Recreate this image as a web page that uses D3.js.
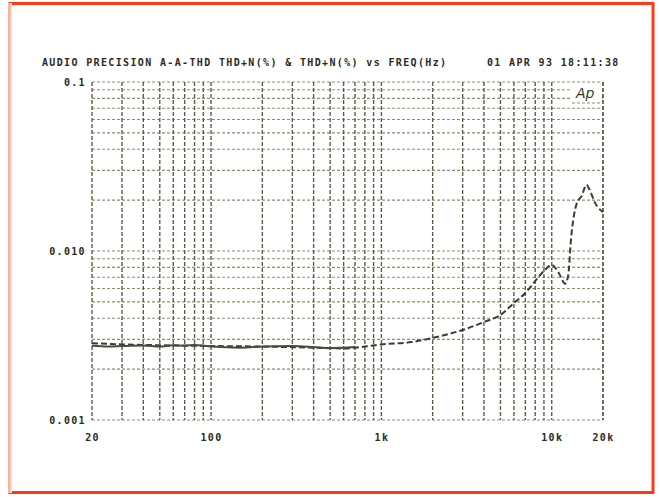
<!DOCTYPE html>
<html><head><meta charset="utf-8">
<script src="https://cdn.jsdelivr.net/npm/d3@7"></script>
<style>
html,body{margin:0;padding:0;background:#fff;}
svg{display:block;}
.t{font-family:"DejaVu Sans Mono","Liberation Mono",monospace;font-weight:bold;font-size:10px;letter-spacing:1.35px;fill:#2b2b22;}
</style></head>
<body>
<svg id="c" width="660" height="497"></svg>
<script>
// ---- data ----
const titleLeft = "AUDIO PRECISION A-A-THD THD+N(%) & THD+N(%) vs FREQ(Hz)";
const titleRight = "01 APR 93 18:11:38";
const xTickValues = [20, 100, 1000, 10000, 20000];
const xTickLabels = ["20", "100", "1k", "10k", "20k"];
const yTickValues = [0.1, 0.01, 0.001];
const yTickLabels = ["0.1", "0.010", "0.001"];
// solid trace (THD+N, low band)
const solidFreq = [20, 25, 30, 40, 50, 60, 70, 80, 100, 150, 200, 300, 400, 500, 600, 700];
const solidVal  = [0.00275, 0.00272, 0.00274, 0.00276, 0.00272, 0.00277, 0.00275, 0.00278, 0.00272, 0.00268, 0.00272, 0.00274, 0.00270, 0.00266, 0.00268, 0.00270];
// dashed trace (THD+N, full band)
const dashFreq = [20, 30, 50, 100, 200, 400, 600, 800, 1000, 1500, 2000, 3000, 4000, 5000, 6000, 7000, 8000, 9000, 10000, 11000, 12000, 12500, 13000, 14000, 15000, 16000, 17000, 18000, 20000];
const dashVal  = [0.00285, 0.00280, 0.00277, 0.00274, 0.00272, 0.00268, 0.00265, 0.00272, 0.00280, 0.00289, 0.00306, 0.00341, 0.00380, 0.00418, 0.00492, 0.00564, 0.00664, 0.00762, 0.00826, 0.00741, 0.00640, 0.00721, 0.0120, 0.0190, 0.0212, 0.0246, 0.0220, 0.0192, 0.0170];

const svg = d3.select("#c");
// scan frame
svg.append("rect").attr("x",10).attr("y",3.5).attr("width",643).attr("height",489)
  .attr("fill","none").attr("stroke","#ff3a12").attr("stroke-width",3);
svg.append("line").attr("x1",10).attr("x2",10).attr("y1",3).attr("y2",493)
  .attr("stroke","#f4c0b0").attr("stroke-width",3);
svg.append("line").attr("x1",11.5).attr("x2",11.5).attr("y1",3).attr("y2",493)
  .attr("stroke","#fbe4dc").attr("stroke-width",1);

const x = d3.scaleLog().domain([20, 20000]).range([92, 603]);
const y = d3.scaleLog().domain([0.001, 0.1]).range([420, 82]);

// grid
const xGrid = [];
[10,100,1000,10000].forEach(d => { for (let m=1;m<=9;m++){ const v=d*m; if(v>=20 && v<=20000) xGrid.push(v);} });
xGrid.push(20000);
const yGrid = [];
[0.001,0.01].forEach(d => { for (let m=1;m<=9;m++) yGrid.push(d*m); });
yGrid.push(0.1);

const g = svg.append("g");
g.selectAll("line.h").data(yGrid).join("line")
  .attr("x1",x(20)).attr("x2",x(20000))
  .attr("y1",d=>y(d)).attr("y2",d=>y(d))
  .attr("stroke","#8e8e6c").attr("stroke-width",1.1).attr("stroke-dasharray","3,2");
g.selectAll("line.v").data(xGrid).join("line")
  .attr("x1",d=>x(d)).attr("x2",d=>x(d))
  .attr("y1",y(0.1)).attr("y2",y(0.001))
  .attr("stroke","#5e5e48").attr("stroke-width",1.4).attr("stroke-dasharray","4,2");

// Ap logo box
svg.append("rect").attr("x",572).attr("y",83).attr("width",30).attr("height",20).attr("fill","#fff");
svg.append("line").attr("x1",572).attr("x2",603).attr("y1",103).attr("y2",103)
  .attr("stroke","#8e8e6c").attr("stroke-width",1.1).attr("stroke-dasharray","3,2");
svg.append("text").attr("x",576).attr("y",98).text("Ap")
  .attr("font-family","DejaVu Sans, sans-serif").attr("font-style","italic")
  .attr("font-size",14).attr("fill","#3a3a30");

// axes labels
const xa = svg.append("g").attr("transform","translate(0,437)")
  .call(d3.axisBottom(x).tickValues(xTickValues).tickFormat((d,i)=>xTickLabels[i]).tickSize(0).tickPadding(0));
xa.select(".domain").remove();
xa.selectAll("text").attr("class","t").attr("dy","0.35em").attr("y",0).attr("fill",null);

const ya = svg.append("g").attr("transform","translate(86,0)")
  .call(d3.axisLeft(y).tickValues(yTickValues).tickFormat((d,i)=>yTickLabels[i]).tickSize(0).tickPadding(0));
ya.select(".domain").remove();
ya.selectAll("text").attr("class","t").attr("fill",null).attr("dy","0.35em");

// title
svg.append("text").attr("class","t").attr("x",42).attr("y",66).text(titleLeft);
svg.append("text").attr("class","t").attr("x",487).attr("y",66).text(titleRight);

// traces
const line = d3.line().x(d=>x(d[0])).y(d=>y(d[1])).curve(d3.curveMonotoneX);
svg.append("path").datum(dashFreq.map((f,i)=>[f,dashVal[i]]))
  .attr("d",line).attr("fill","none").attr("stroke","#3c3c34").attr("stroke-width",2)
  .attr("stroke-dasharray","6,3");
svg.append("path").datum(solidFreq.map((f,i)=>[f,solidVal[i]]))
  .attr("d",line).attr("fill","none").attr("stroke","#4a4a3e").attr("stroke-width",2);
</script>
</body></html>
